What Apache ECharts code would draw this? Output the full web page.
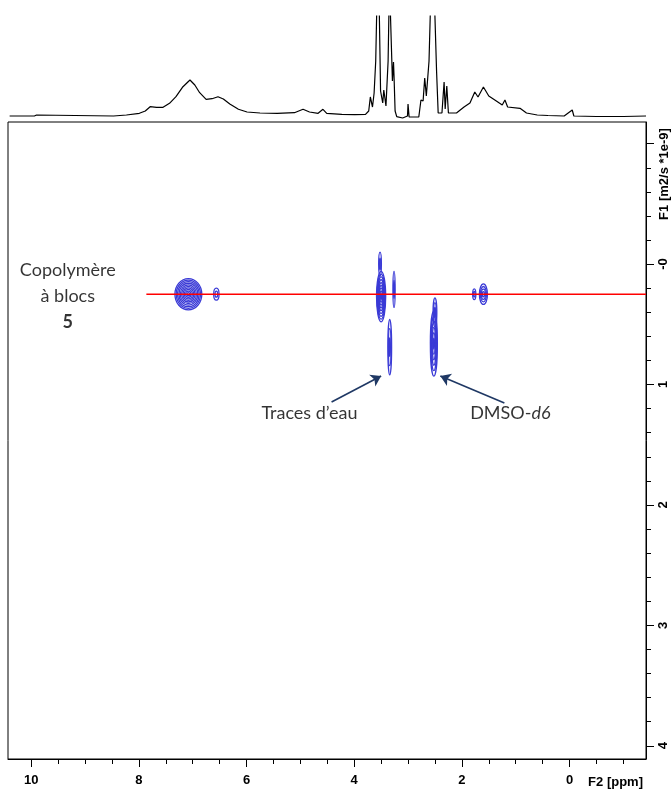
<!DOCTYPE html>
<html><head><meta charset="utf-8">
<script src="https://cdn.jsdelivr.net/npm/echarts@6/dist/echarts.min.js"></script>
<style>html,body{margin:0;padding:0;background:#fff}#c{width:672px;height:790px}</style>
</head><body><div id="c"></div>
<script>
// ---- axis ranges & tick labels ----
const xMin = -1.42, xMax = 10.43;           // F2 [ppm] (reversed)
const yMin = -1.18, yMax = 4.11;            // F1 (increasing downward)
const xMajorTicks = [10, 8, 6, 4, 2, 0];
const xMinorTicks = [10, 9.5, 9, 8.5, 8, 7.5, 7, 6.5, 6, 5.5, 5, 4.5, 4, 3.5, 3, 2.5, 2, 1.5, 1, 0.5, 0, -0.5, -1];
const yMajorTicks = [-1, 0, 1, 2, 3, 4];
const yLabelValues = [0, 1, 2, 3, 4];
const yMinorTicks = [-1, -0.8, -0.6, -0.4, -0.2, 0, 0.2, 0.4, 0.6, 0.8, 1, 1.2, 1.4, 1.6, 1.8, 2, 2.2, 2.4, 2.6, 2.8, 3, 3.2, 3.4, 3.6, 3.8, 4];

// ---- 1D projection spectrum (ppm, intensity) ----
const specPpm = [10.4, 9.94, 9.9, 8.47, 8.23, 7.99, 7.88, 7.79, 7.67, 7.55, 7.43, 7.31, 7.19, 7.05, 6.96, 6.87, 6.75, 6.64, 6.53, 6.43, 6.31, 6.15, 5.99, 5.75, 5.43, 5.11, 4.95, 4.83, 4.67, 4.58, 4.51, 4.23, 3.99, 3.79, 3.73, 3.70, 3.66, 3.63, 3.60, 3.57, 3.555, 3.54, 3.51, 3.47, 3.45, 3.41, 3.37, 3.345, 3.33, 3.31, 3.29, 3.27, 3.26, 3.24, 3.21, 3.10, 3.01, 3.00, 2.98, 2.80, 2.76, 2.72, 2.69, 2.66, 2.61, 2.57, 2.55, 2.52, 2.49, 2.47, 2.44, 2.37, 2.33, 2.31, 2.28, 2.25, 2.10, 1.96, 1.85, 1.76, 1.70, 1.60, 1.50, 1.36, 1.25, 1.20, 1.15, 0.92, 0.80, 0.60, 0.40, 0.10, -0.05, -0.08, -0.50, -1.00, -1.42];
const specInt = [5, 5, 6, 5, 6, 7.7, 10, 14.3, 13.7, 13.7, 17.7, 24.3, 33.7, 41, 36, 28.3, 21.7, 22.3, 24.3, 22, 17, 11.7, 9, 8, 7.7, 8.3, 11.7, 9, 7.7, 11.7, 7.7, 6.7, 6.3, 6.7, 10, 24, 14, 28, 60, 140, 140, 130, 30, 18, 31, 15, 60, 140, 140, 140, 40, 59, 45, 10, 4.3, 3, 5, 17, 4, 4, 21, 20, 43, 25, 60, 140, 140, 140, 140, 50, 8, 8, 39, 12, 35, 8, 8, 14, 18, 29, 24, 34, 25, 20, 16, 21, 14, 12.7, 8, 6, 5.5, 5, 11, 5, 4.5, 4.5, 5];

// ---- DOSY contour peaks ----
const peakPpm   = [7.08, 6.56, 1.60, 1.77, 3.50, 3.52, 3.26, 3.34, 2.52, 2.50];
const peakD     = [0.25, 0.25, 0.25, 0.25, 0.27, 0.00, 0.21, 0.69, 0.66, 0.40];
const peakHalfW = [0.25, 0.05, 0.075, 0.03, 0.085, 0.025, 0.02, 0.035, 0.065, 0.035];
const peakHalfH = [0.13, 0.05, 0.085, 0.045, 0.21, 0.10, 0.15, 0.23, 0.27, 0.12];
const peakRings = [10, 2, 4, 2, 9, 2, 2, 3, 6, 3];

// ---- red reference line ----
const redLinePpm = [7.86, -1.42];
const redLineD = 0.25;

// ---- annotations ----
const annotText = ['Copolymère\nà blocs\n{b|5}', 'Traces d’eau', '{n|DMSO-}{i|d6}'];
const annotPpm  = [9.32, 4.83, 1.10];
const annotD    = [0.265, 1.235, 1.235];
const arrowFrom = [[4.42, 1.145], [1.21, 1.153]];
const arrowTo   = [[3.50, 0.93], [2.40, 0.93]];

const chart = echarts.init(document.getElementById('c'), null, {renderer: 'canvas'});
const axisFont = {fontFamily: 'Liberation Sans', fontWeight: 'bold', fontSize: 13, color: '#000'};
const contourColor = '#3a3ad6';

const option = {
  animation: false,
  backgroundColor: '#fff',
  grid: [
    {left: 8, right: 26, top: 16, height: 105, show: false},
    {left: 8, right: 26, top: 122, bottom: 31, show: true, borderColor: '#000', borderWidth: 1, backgroundColor: 'transparent'}
  ],
  xAxis: [
    {gridIndex: 0, type: 'value', min: xMin, max: xMax, inverse: true, show: false},
    {gridIndex: 1, type: 'value', min: xMin, max: xMax, inverse: true, position: 'bottom',
      axisLine: {show: true, onZero: false, lineStyle: {color: '#000', width: 1}},
      splitLine: {show: false},
      axisTick: {show: true, customValues: xMajorTicks, length: 8, lineStyle: {color: '#000', width: 1}},
      axisLabel: Object.assign({show: true, customValues: xMajorTicks, margin: 15}, axisFont)},
    {gridIndex: 1, type: 'value', min: xMin, max: xMax, inverse: true, position: 'bottom',
      axisLine: {show: false, onZero: false}, splitLine: {show: false},
      axisTick: {show: true, customValues: xMinorTicks, length: 5, lineStyle: {color: '#000', width: 1}},
      axisLabel: {show: false}}
  ],
  yAxis: [
    {gridIndex: 0, type: 'value', min: 0, max: 105, show: false},
    {gridIndex: 1, type: 'value', min: yMin, max: yMax, inverse: true, position: 'right',
      axisLine: {show: true, onZero: false, lineStyle: {color: '#000', width: 1}},
      splitLine: {show: false},
      axisTick: {show: true, customValues: yMajorTicks, length: 8, lineStyle: {color: '#000', width: 1}},
      axisLabel: Object.assign({show: true, customValues: yLabelValues, margin: 11, rotate: 90,
        formatter: v => (v === 0 ? '-0' : String(v))}, axisFont)},
    {gridIndex: 1, type: 'value', min: yMin, max: yMax, inverse: true, position: 'right',
      axisLine: {show: false, onZero: false}, splitLine: {show: false},
      axisTick: {show: true, customValues: yMinorTicks, length: 5, lineStyle: {color: '#000', width: 1}},
      axisLabel: {show: false}}
  ],
  graphic: [
    {type: 'text', x: 643, y: 782, style: {text: 'F2 [ppm]', font: 'bold 13px "Liberation Sans"', fill: '#000', align: 'right', verticalAlign: 'middle'}},
    {type: 'text', x: 664, y: 174, rotation: Math.PI / 2, style: {text: 'F1 [m2/s *1e-9]', font: 'bold 13px "Liberation Sans"', fill: '#000', align: 'center', verticalAlign: 'middle'}}
  ],
  series: [
    {type: 'line', xAxisIndex: 0, yAxisIndex: 0, showSymbol: false, symbol: 'none', clip: true,
      lineStyle: {color: '#000', width: 1.2}, data: specPpm.map((p, i) => [p, specInt[i]])},
    {type: 'line', xAxisIndex: 1, yAxisIndex: 1, showSymbol: false, symbol: 'none',
      lineStyle: {color: '#ff0000', width: 1.5}, data: redLinePpm.map(p => [p, redLineD])},
    {type: 'custom', xAxisIndex: 1, yAxisIndex: 1, clip: true,
      data: peakPpm.map((p, i) => [p, peakD[i], peakHalfW[i], peakHalfH[i], peakRings[i]]),
      renderItem: function (params, api) {
        const c = api.coord([api.value(0), api.value(1)]);
        const s = api.size([api.value(2), api.value(3)]);
        const rx = Math.abs(s[0]), ry = Math.abs(s[1]);
        const n = api.value(4);
        const children = [];
        for (let k = 1; k <= n; k++) {
          children.push({type: 'ellipse', shape: {cx: c[0], cy: c[1], rx: rx * k / n, ry: ry * k / n},
            style: {fill: null, stroke: contourColor, lineWidth: 1.3}});
        }
        return {type: 'group', children: children};
      }},
    {type: 'scatter', xAxisIndex: 1, yAxisIndex: 1, symbolSize: 0, silent: true,
      data: annotPpm.map((p, i) => ({value: [p, annotD[i]], label: {formatter: annotText[i]}})),
      label: {show: true, position: 'inside', color: '#000', fontFamily: 'Lato', fontSize: 18, lineHeight: 26, align: 'center',
        rich: {b: {fontFamily: 'Lato', fontWeight: 'bold', fontSize: 18, lineHeight: 26, color: '#000'},
               n: {fontFamily: 'Lato', fontSize: 18, color: '#000'},
               i: {fontFamily: 'Lato', fontStyle: 'italic', fontSize: 18, color: '#000'}}},
      markLine: {silent: true, symbol: ['none', 'arrow'], symbolSize: 10,
        lineStyle: {color: '#1f3864', width: 1.6, type: 'solid'}, label: {show: false},
        data: arrowFrom.map((f, i) => [{coord: f}, {coord: arrowTo[i]}])}}
  ]
};
chart.setOption(option);
</script>
</body></html>
